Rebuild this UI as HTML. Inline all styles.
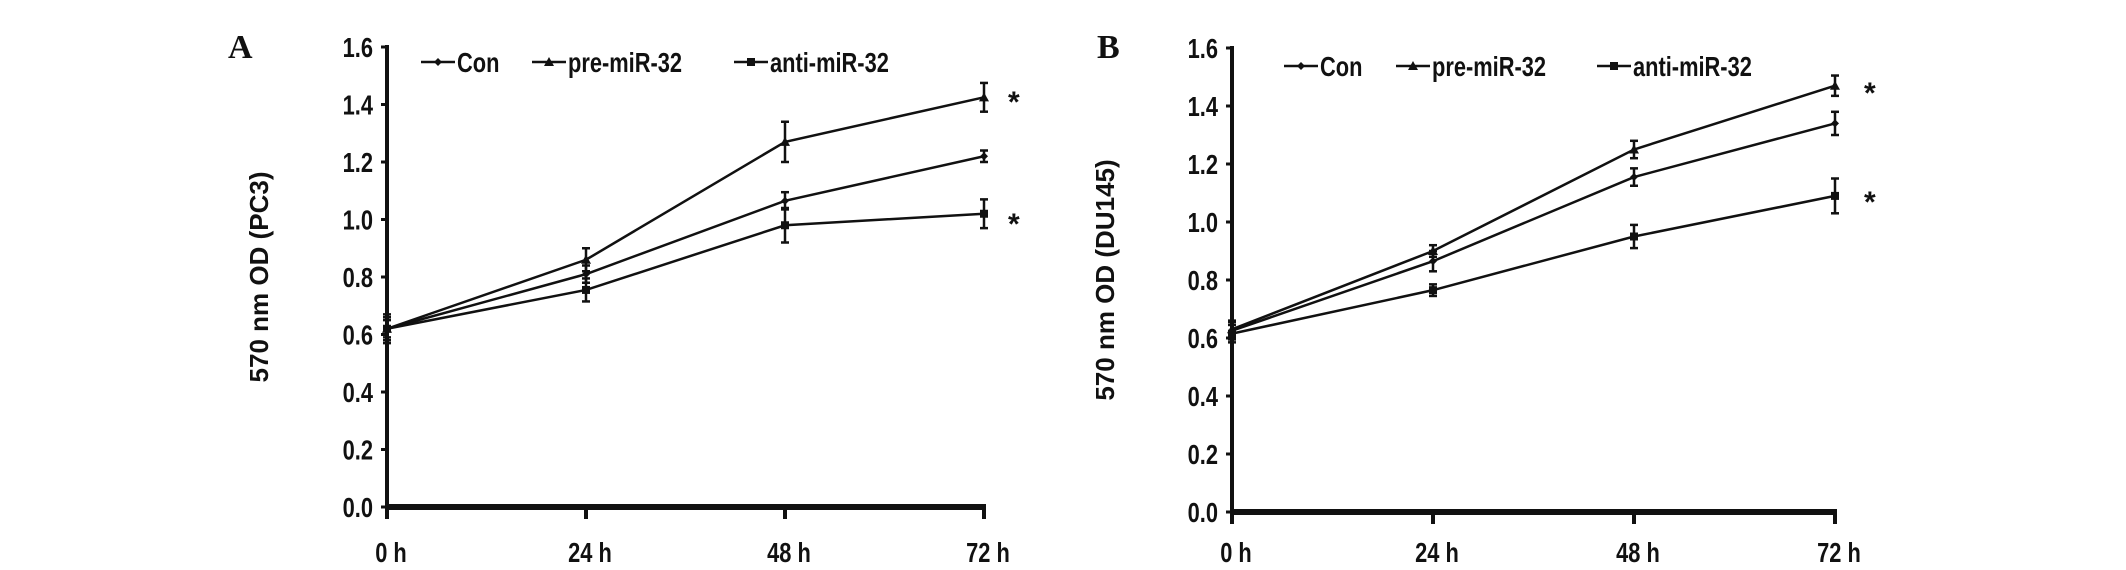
<!DOCTYPE html>
<html><head><meta charset="utf-8"><style>
html,body{margin:0;padding:0;background:#fff;}
svg{display:block;}
text{font-family:"Liberation Sans",Arial,sans-serif;font-weight:bold;fill:#111;}
</style></head><body>
<svg id="chart" width="2126" height="570" viewBox="0 0 2126 570" xmlns="http://www.w3.org/2000/svg"></svg>
<script>
const categories = ["0 h","24 h","48 h","72 h"];
const yTicks = [0,0.2,0.4,0.6,0.8,1.0,1.2,1.4,1.6];
const seriesNames = ["Con","pre-miR-32","anti-miR-32"];
const aCon = [0.62,0.81,1.065,1.22];
const aConErr = [0.03,0.03,0.03,0.02];
const aPre = [0.62,0.86,1.27,1.425];
const aPreErr = [0.05,0.04,0.07,0.05];
const aAnti = [0.62,0.755,0.98,1.02];
const aAntiErr = [0.04,0.04,0.06,0.05];
const bCon = [0.625,0.865,1.155,1.34];
const bConErr = [0.03,0.035,0.03,0.04];
const bPre = [0.63,0.90,1.25,1.47];
const bPreErr = [0.03,0.02,0.03,0.035];
const bAnti = [0.615,0.765,0.95,1.09];
const bAntiErr = [0.03,0.02,0.04,0.06];

const svg = document.getElementById('chart');
const NS = 'http://www.w3.org/2000/svg';
const SX = 0.78;
function mk(tag, attrs, parent){
  const e = document.createElementNS(NS, tag);
  for (const k in attrs) e.setAttribute(k, attrs[k]);
  (parent||svg).appendChild(e);
  return e;
}
function ctext(x, y, size, anchor, parent){
  return mk('text', {x: x / SX, y: y, 'font-size': size, 'text-anchor': anchor, transform: `scale(${SX},1)`}, parent);
}
function panel(cfg){
  const g = mk('g', {});
  
  
  const x = i => cfg.x0 + (cfg.x1 - cfg.x0) * i / (categories.length - 1);
  const y = v => cfg.y0 - (cfg.y0 - cfg.y1) * v / 1.6;
  const L = mk('text', {x: cfg.letterX, y: 58, 'font-size': 34, style: 'font-family:"Liberation Serif",serif'}, g);
  L.textContent = cfg.letter;
  
  
  const ya = mk('line', {x1: cfg.x0, y1: cfg.y1 - 2, x2: cfg.x0, y2: cfg.y0 + 3, stroke: '#111', 'stroke-width': 4}, g);
  
  
  yTicks.forEach(v => {
    mk('line', {x1: cfg.x0 - 6, y1: y(v), x2: cfg.x0, y2: y(v), stroke: '#111', 'stroke-width': 3}, g);
    const t = ctext(cfg.x0 - 14, y(v) + 10, 28, 'end', g);
    t.textContent = v.toFixed(1);
    
    
  });
  const xa = mk('line', {x1: cfg.x0 - 2, y1: cfg.y0, x2: cfg.x1 + 2, y2: cfg.y0, stroke: '#111', 'stroke-width': 6}, g);
  
  
  categories.forEach((c, i) => {
    mk('line', {x1: x(i), y1: cfg.y0, x2: x(i), y2: cfg.y0 + 12, stroke: '#111', 'stroke-width': 4}, g);
    const t = ctext(x(i) + 4, 562, 28, 'middle', g);
    t.textContent = c;
    
    
  });
  const yt = mk('text', {x: 0, y: 0, 'font-size': 26, 'text-anchor': 'middle', transform: `translate(${cfg.titleX},${(cfg.y0 + cfg.y1) / 2}) rotate(-90)`}, g);
  yt.textContent = cfg.title;
  
  
  const markers = ['diamond','triangle','square'];
  function marker(px, py, type, parent){
    if (type === 'diamond') mk('path', {d: `M${px} ${py-4}L${px+4} ${py}L${px} ${py+4}L${px-4} ${py}Z`, fill: '#111'}, parent);
    else if (type === 'triangle') mk('path', {d: `M${px} ${py-5}L${px+5} ${py+4}L${px-5} ${py+4}Z`, fill: '#111'}, parent);
    else mk('rect', {x: px - 4, y: py - 4, width: 8, height: 8, fill: '#111'}, parent);
  }
  cfg.series.forEach((s, si) => {
    const sg = mk('g', {}, g);
    
    
    const pts = s.v.map((v, i) => x(i) + ',' + y(v)).join(' ');
    mk('polyline', {points: pts, fill: 'none', stroke: '#111', 'stroke-width': 2.5}, sg);
    s.v.forEach((v, i) => {
      const px = x(i), e = s.e[i];
      mk('line', {x1: px, y1: y(v + e), x2: px, y2: y(v - e), stroke: '#111', 'stroke-width': 2.5}, sg);
      mk('line', {x1: px - 4, y1: y(v + e), x2: px + 4, y2: y(v + e), stroke: '#111', 'stroke-width': 2.5}, sg);
      mk('line', {x1: px - 4, y1: y(v - e), x2: px + 4, y2: y(v - e), stroke: '#111', 'stroke-width': 2.5}, sg);
      marker(px, y(v), markers[si], sg);
    });
  });
  cfg.legend.forEach((lx, si) => {
    const lg = mk('g', {}, g);
    
    
    mk('line', {x1: lx, y1: cfg.legY, x2: lx + 34, y2: cfg.legY, stroke: '#111', 'stroke-width': 2.5}, lg);
    marker(lx + 17, cfg.legY, markers[si], lg);
    const t = ctext(lx + 36, cfg.legY + 10, 28, 'start', lg);
    t.textContent = seriesNames[si];
  });
  cfg.stars.forEach(sy => {
    const t = mk('text', {x: cfg.starX, y: sy + 16, 'font-size': 30}, g);
    t.textContent = '*';
    
    
  });
}
panel({id:'panel-a', letter:'A', letterX:228, x0:387, x1:984, y0:507, y1:47, title:'570 nm OD (PC3)', titleX:268,
  series:[{v:aCon,e:aConErr},{v:aPre,e:aPreErr},{v:aAnti,e:aAntiErr}],
  legend:[421,532,734], legY:62, starX:1008, stars:[96,218]});
panel({id:'panel-b', letter:'B', letterX:1097, x0:1232, x1:1835, y0:512, y1:48, title:'570 nm OD (DU145)', titleX:1114,
  series:[{v:bCon,e:bConErr},{v:bPre,e:bPreErr},{v:bAnti,e:bAntiErr}],
  legend:[1284,1396,1597], legY:66, starX:1864, stars:[87,196]});
</script>
</body></html>
